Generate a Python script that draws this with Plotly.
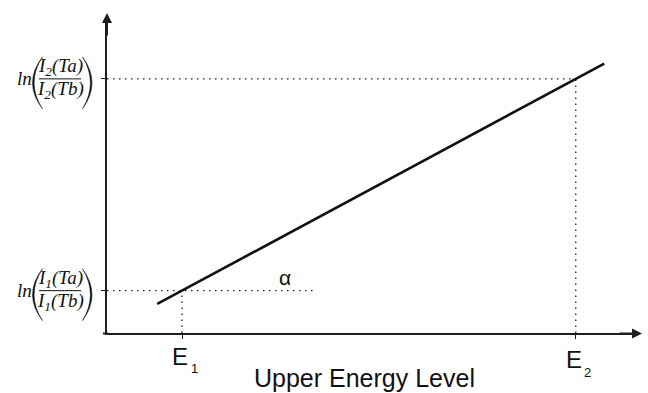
import plotly.graph_objects as go

W, H = 648, 393
ML, MR, MT, MB = 107, 10, 20, 60

# Boltzmann-plot schematic: two emission lines at two temperatures
E_upper = [1.0, 6.25]          # upper energy levels E1, E2 (arb. units)
ln_ratio = [1.0, 6.0]          # ln(I(Ta)/I(Tb)) of each line
E_subs = ["1", "2"]
line_subs = ["1", "2"]
line_extent = [0.67, 6.63]     # drawn span of the straight line
alpha_ref_end = 2.8            # end of the horizontal reference for the angle
x_range = [0, 7.08]
y_range = [0, 7.39]

INK = "#111111"
AX = "#1e1e1e"
SERIF = "Liberation Serif, Times New Roman, serif"
SANS = "Liberation Sans, Arial, sans-serif"

pw = W - ML - MR
ph = H - MT - MB


def px(x):
    return (x - ML) / pw


def py(y):
    return (H - MB - y) / ph


slope = (ln_ratio[1] - ln_ratio[0]) / (E_upper[1] - E_upper[0])
fit_y = [ln_ratio[0] + slope * (x - E_upper[0]) for x in line_extent]

dot = dict(color="#222222", width=1.3, dash="1.5px,4.5px")

fig = go.Figure()
fig.add_trace(go.Scatter(x=[0, alpha_ref_end], y=[ln_ratio[0]] * 2, mode="lines", line=dot))
fig.add_trace(go.Scatter(x=[E_upper[0]] * 2, y=[0, ln_ratio[0]], mode="lines", line=dot))
fig.add_trace(go.Scatter(x=[0, E_upper[1]], y=[ln_ratio[1]] * 2, mode="lines", line=dot))
fig.add_trace(go.Scatter(x=[E_upper[1]] * 2, y=[0, ln_ratio[1]], mode="lines", line=dot))
fig.add_trace(go.Scatter(x=line_extent, y=fit_y, mode="lines",
                         line=dict(color=INK, width=2.6)))

axis_common = dict(showline=True, linecolor=AX, linewidth=2, ticks="outside",
                   ticklen=4, tickwidth=1, tickcolor=AX, showticklabels=False,
                   showgrid=False, zeroline=False, fixedrange=True)

annotations = []
shapes = []

# short stub of the x axis left of the origin
shapes.append(dict(type="line", xref="paper", yref="paper",
                   x0=px(103), x1=px(108), y0=py(333.5), y1=py(333.5),
                   line=dict(color=AX, width=2)))

# arrowheads at the ends of both axes
annotations.append(dict(xref="paper", yref="paper", x=px(642), y=py(333.5), ax=-24, ay=0,
                        showarrow=True, arrowhead=2, arrowsize=1, arrowwidth=2,
                        arrowcolor=AX, text=""))
annotations.append(dict(xref="paper", yref="paper", x=px(107), y=py(13), ax=0, ay=24,
                        showarrow=True, arrowhead=2, arrowsize=1, arrowwidth=2,
                        arrowcolor=AX, text=""))

# energy labels under the x axis
E_label_y = [356, 360]
for e, s, ly in zip(E_upper, E_subs, E_label_y):
    annotations.append(dict(xref="x", yref="paper", x=e, y=py(ly), xshift=-2,
                            text="E", showarrow=False, xanchor="center", yanchor="middle",
                            font=dict(family=SANS, size=24, color=INK)))
    annotations.append(dict(xref="x", yref="paper", x=e, y=py(ly + 12), xshift=12,
                            text=s, showarrow=False, xanchor="center", yanchor="middle",
                            font=dict(family=SANS, size=13, color=INK)))

annotations.append(dict(xref="paper", yref="paper", x=px(364), y=py(378),
                        text="Upper Energy Level", showarrow=False,
                        xanchor="center", yanchor="middle",
                        font=dict(family=SANS, size=25, color=INK)))

annotations.append(dict(xref="paper", yref="paper", x=px(285), y=py(277),
                        text="α", showarrow=False, xanchor="center", yanchor="middle",
                        font=dict(family=SANS, size=21, color=INK)))


def paren(xe, xm, y0, y1, left=True):
    """Thin crescent-shaped bracket from y0 to y1 (pixels)."""
    ym = (y0 + y1) / 2
    inner = xm + (1.6 if left else -1.6)
    co = 2 * xm - xe
    ci = 2 * inner - xe
    return (f"M {px(xe)},{py(y0)} Q {px(co)},{py(ym)} {px(xe)},{py(y1)} "
            f"Q {px(ci)},{py(ym)} {px(xe)},{py(y0)} Z")


# y-axis labels: ln( I_k(Ta) / I_k(Tb) )
for yv, s in zip(ln_ratio, line_subs):
    yc = H - MB - (yv - y_range[0]) / (y_range[1] - y_range[0]) * ph
    it = dict(family=SERIF, size=19, color=INK)
    annotations.append(dict(xref="paper", yref="paper", x=px(24.5), y=py(yc),
                            text="<i>ln</i>", showarrow=False,
                            xanchor="center", yanchor="middle", font=it))
    annotations.append(dict(xref="paper", yref="paper", x=px(60), y=py(yc - 12),
                            text=f"<i>I<sub>{s}</sub>(Ta)</i>", showarrow=False,
                            xanchor="center", yanchor="middle", font=it))
    annotations.append(dict(xref="paper", yref="paper", x=px(60), y=py(yc + 11),
                            text=f"<i>I<sub>{s}</sub>(Tb)</i>", showarrow=False,
                            xanchor="center", yanchor="middle", font=it))
    shapes.append(dict(type="line", xref="paper", yref="paper",
                       x0=px(39), x1=px(81), y0=py(yc), y1=py(yc),
                       line=dict(color=INK, width=1)))
    shapes.append(dict(type="path", xref="paper", yref="paper",
                       path=paren(42.5, 32.5, yc - 22, yc + 30, True),
                       fillcolor=INK, line=dict(color=INK, width=0.5)))
    shapes.append(dict(type="path", xref="paper", yref="paper",
                       path=paren(82.5, 92, yc - 22, yc + 30, False),
                       fillcolor=INK, line=dict(color=INK, width=0.5)))

fig.update_layout(
    width=W, height=H,
    margin=dict(l=ML, r=MR, t=MT, b=MB),
    paper_bgcolor="white", plot_bgcolor="white",
    showlegend=False,
    xaxis=dict(range=x_range, tickvals=E_upper, **axis_common),
    yaxis=dict(range=y_range, tickvals=ln_ratio, **axis_common),
    annotations=annotations,
    shapes=shapes,
)

fig.write_html("out.html")
